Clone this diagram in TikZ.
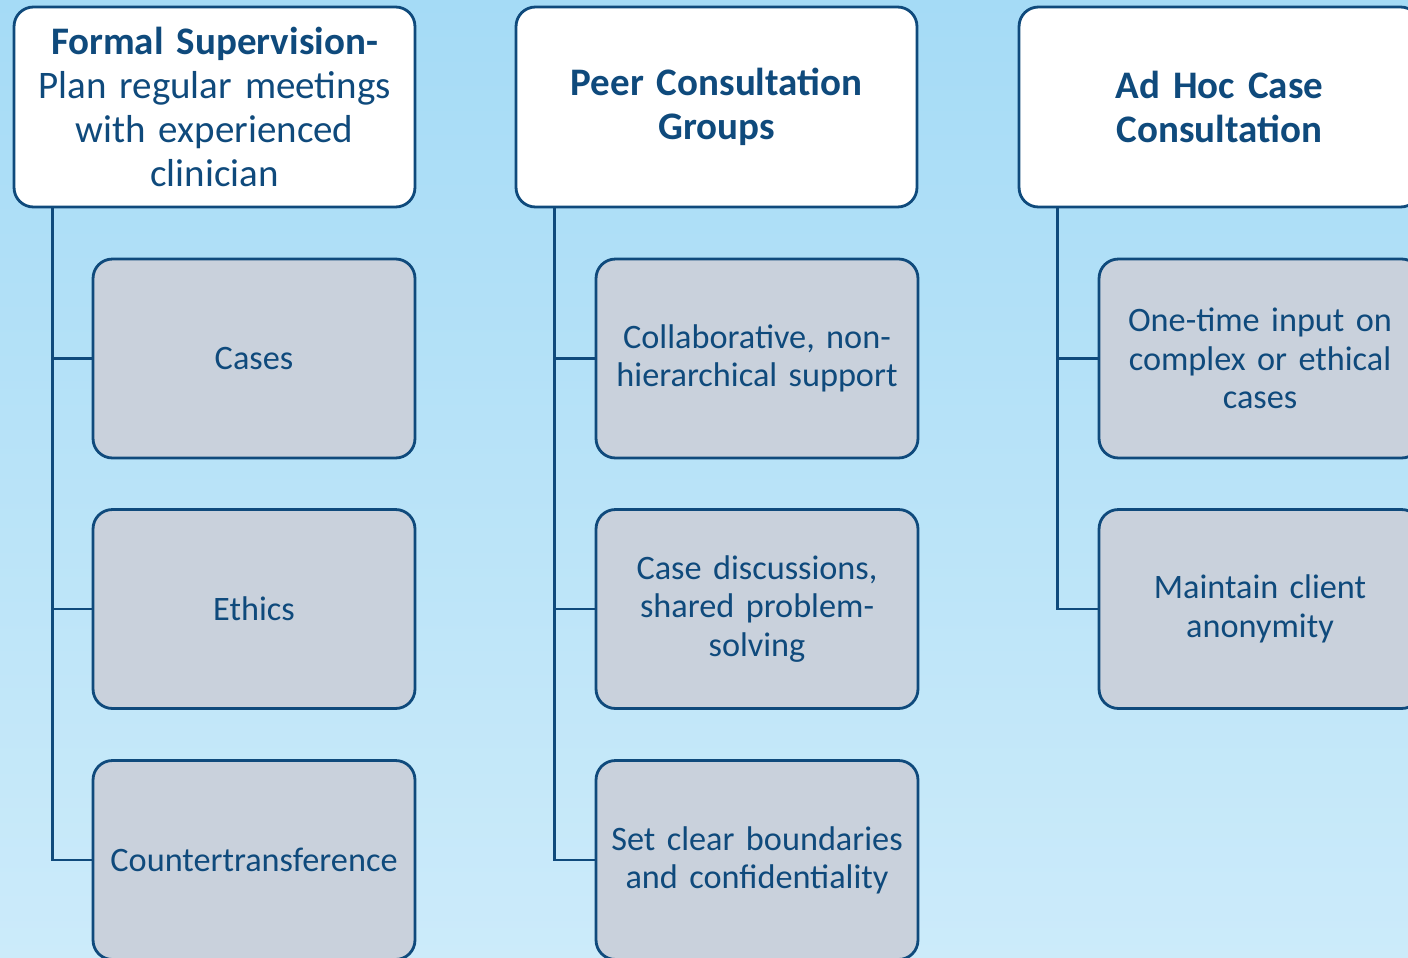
\documentclass[tikz,border=0pt]{standalone}
\usepackage{fontspec}
\setmainfont{Carlito}
\definecolor{navy}{HTML}{0F4A7C}
\definecolor{boxgrey}{HTML}{C9D1DC}
\definecolor{skytop}{HTML}{A5DBF6}
\definecolor{skybot}{HTML}{CCEBFA}
\begin{document}
\begin{tikzpicture}[x=0.02cm,y=-0.02cm,
    head/.style={draw=navy,line width=1.6pt,fill=white,rounded corners=11pt,inner sep=2pt,minimum width=8.02cm,minimum height=4cm,text width=7.6cm,align=center,text=navy,font=\fontsize{22.2}{25}\selectfont},
    item/.style={draw=navy,line width=1.6pt,fill=boxgrey,rounded corners=11pt,inner sep=2pt,minimum width=6.44cm,minimum height=3.98cm,text width=6.1cm,align=center,text=navy,font=\fontsize{19.5}{21.8}\selectfont},
    link/.style={draw=navy,line width=1.6pt}]
    \useasboundingbox (0,0) rectangle (1408,957);
    \clip (0,0) rectangle (1408,957);
    \shade[top color=skytop,bottom color=skybot] (0,0) rectangle (1408,957);
    \node[head] (h1) at (214.5,107) {\textbf{Formal Supervision-}\\Plan regular meetings\\with experienced\\clinician};
    \node[head] (h2) at (716.5,107) {\textbf{Peer Consultation\\Groups}};
    \node[head] (h3) at (1219.5,107) {\textbf{Ad Hoc Case\\Consultation}};
    \node[item] (c11) at (254,358.5) {Cases};
    \node[item] (c12) at (254,609) {Ethics};
    \node[item] (c13) at (254,860) {Countertransference};
    \node[item] (c21) at (757,358.5) {Collaborative, non-\\hierarchical support};
    \node[item] (c22) at (757,609) {Case discussions,\\shared problem-\\solving};
    \node[item] (c23) at (757,860) {Set clear boundaries\\and confidentiality};
    \node[item] (c31) at (1260,358.5) {One-time input on\\complex or ethical\\cases};
    \node[item] (c32) at (1260,609) {Maintain client\\anonymity};
    \draw[link] ([xshift=0.8cm]h1.south west) |- (c11.west);
    \draw[link] ([xshift=0.8cm]h1.south west) |- (c12.west);
    \draw[link] ([xshift=0.8cm]h1.south west) |- (c13.west);
    \draw[link] ([xshift=0.8cm]h2.south west) |- (c21.west);
    \draw[link] ([xshift=0.8cm]h2.south west) |- (c22.west);
    \draw[link] ([xshift=0.8cm]h2.south west) |- (c23.west);
    \draw[link] ([xshift=0.8cm]h3.south west) |- (c31.west);
    \draw[link] ([xshift=0.8cm]h3.south west) |- (c32.west);
\end{tikzpicture}
\end{document}
